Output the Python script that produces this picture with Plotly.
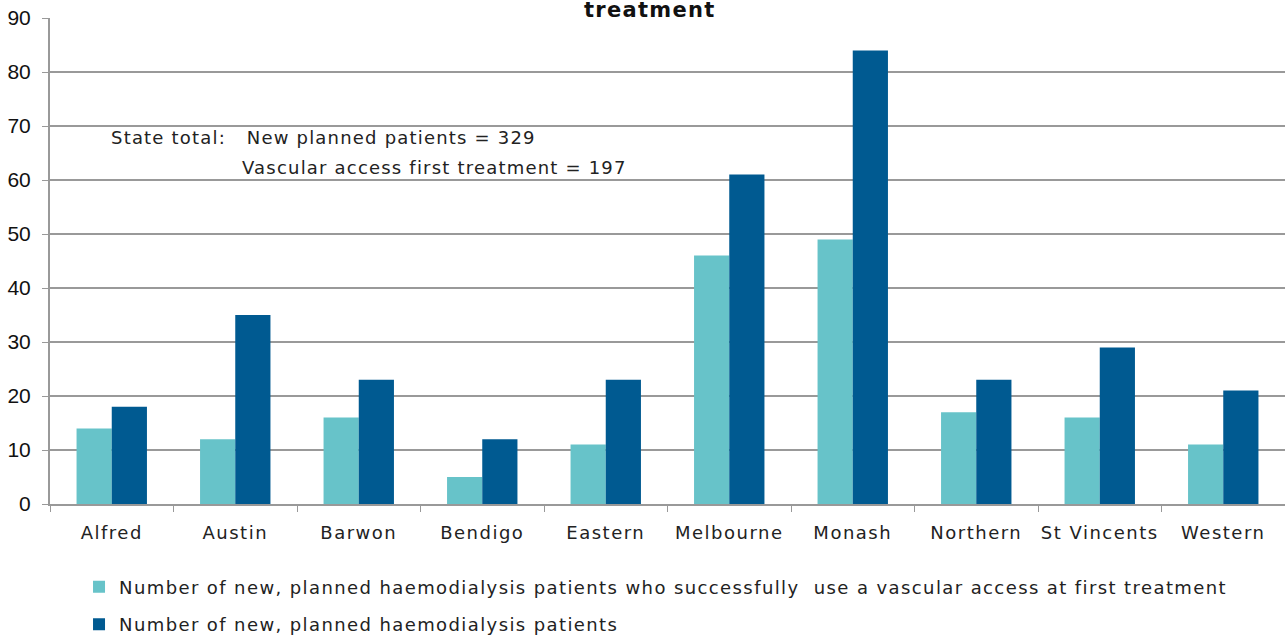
import plotly.graph_objects as go

# health services and patient counts
services = ["Alfred", "Austin", "Barwon", "Bendigo", "Eastern", "Melbourne",
            "Monash", "Northern", "St Vincents", "Western"]
vascular_first = [14, 12, 16, 5, 11, 46, 49, 17, 16, 11]
new_planned = [18, 35, 23, 12, 23, 61, 84, 23, 29, 21]

y_ticks = list(range(0, 100, 10))

light_name = "Number of new, planned haemodialysis patients who successfully  use a vascular access at first treatment"
dark_name = "Number of new, planned haemodialysis patients"

text_font = "DejaVu Sans"
grid_col = "#999999"


# the original font is wide, so add some letter spacing
def wide(s, px=1.4):
    return f'<span style="letter-spacing:{px}px">{s}</span>'


fig = go.Figure()
fig.add_trace(go.Bar(name=wide(light_name), x=services, y=vascular_first,
                     marker=dict(color="#67C3C9", line=dict(width=0)), legendgroup="a"))
fig.add_trace(go.Bar(name=wide(dark_name), x=services, y=new_planned,
                     marker=dict(color="#005A91", line=dict(width=0)), legendgroup="b"))

fig.update_layout(
    width=1285, height=637,
    margin=dict(l=50, r=0, t=18, b=133, autoexpand=False),
    plot_bgcolor="white", paper_bgcolor="white",
    barmode="group", bargap=0.43, bargroupgap=0,
    font=dict(family=text_font, size=18, color="#222222"),
    showlegend=True,
    legend=dict(orientation="v", x=0.0235, xanchor="left", y=-0.133, yanchor="top",
                traceorder="grouped", tracegroupgap=11, itemwidth=30,
                font=dict(family=text_font, size=18, color="#222222")),
)

fig.update_xaxes(type="category", range=[-0.5, 9.5], tickson="boundaries",
                 tickvals=services, ticktext=[wide(s, 1.5) for s in services],
                 tickangle=0,
                 ticks="outside", ticklen=6, tickcolor=grid_col, automargin=False,
                 showline=True, linecolor=grid_col, linewidth=2, ticklabelstandoff=11,
                 tickfont=dict(family=text_font, size=18, color="#222222"))
fig.update_yaxes(range=[0, 90], tickvals=y_ticks, ticks="outside", ticklen=6,
                 tickcolor=grid_col, showline=True, linecolor=grid_col, linewidth=2,
                 showgrid=True, gridcolor=grid_col, gridwidth=2, zeroline=False,
                 automargin=False, ticklabelstandoff=7,
                 tickfont=dict(family="Liberation Sans", size=21, color="#111111"))

# title is cut off at the top of the image, only its second line shows
fig.add_annotation(text=wide("<b>treatment</b>", 1.3), xref="paper", yref="paper",
                   x=0.492, y=1, yanchor="bottom", yshift=-6, xshift=-8, showarrow=False,
                   font=dict(family=text_font, size=21, color="#111111"))

fig.add_annotation(text=wide("State total:   New planned patients = 329", 1.2),
                   xref="x", yref="y", x=-0.02, y=67.8, xanchor="left", showarrow=False,
                   font=dict(family=text_font, size=18, color="#222222"))
fig.add_annotation(text=wide("Vascular access first treatment = 197", 1.2),
                   xref="x", yref="y", x=1.04, y=62.4, xanchor="left", showarrow=False,
                   font=dict(family=text_font, size=18, color="#222222"))

# drop the default page margin so the figure sits at the window corner
fig.write_html("out.html", config={"displayModeBar": False},
               post_script="document.body.style.margin = '0';")
